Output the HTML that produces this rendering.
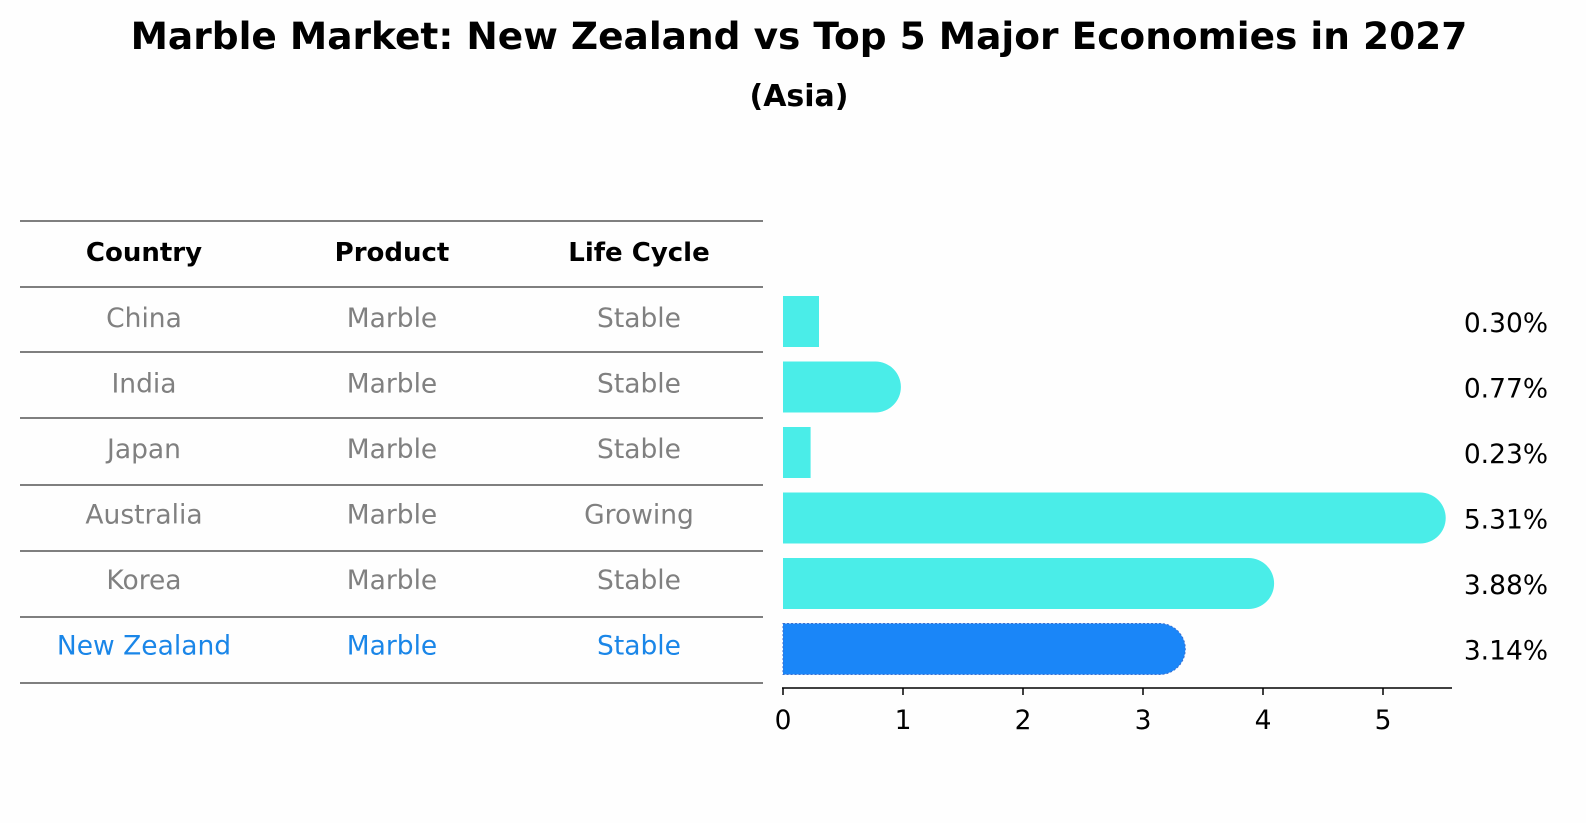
<!DOCTYPE html>
<html><head><meta charset="utf-8"><style>
body{margin:0;background:#fefefe;font-family:"Liberation Sans","DejaVu Sans",sans-serif;}
#wrap{position:relative;width:1586px;height:823px;overflow:hidden;}
.t{position:absolute;white-space:nowrap;}
</style></head><body>
<div id="wrap">
<div class="t" style="left:0;width:1598px;text-align:center;top:14px;font-size:37.5px;font-weight:bold;font-family:'DejaVu Sans',sans-serif;">Marble Market: New Zealand vs Top 5 Major Economies in 2027</div>
<div class="t" style="left:0;width:1598px;text-align:center;top:79px;font-size:30px;font-weight:bold;font-family:'DejaVu Sans',sans-serif;">(Asia)</div>
<svg id="svg" width="1586" height="823" style="position:absolute;left:0;top:0"></svg>
</div>
<script>
const countries=["China","India","Japan","Australia","Korea","New Zealand"];
const products=["Marble","Marble","Marble","Marble","Marble","Marble"];
const lifeCycles=["Stable","Stable","Stable","Growing","Stable","Stable"];
const values=[0.30,0.77,0.23,5.31,3.88,3.14];
const valueLabels=["0.30%","0.77%","0.23%","5.31%","3.88%","3.14%"];
const ticks=[0,1,2,3,4,5];
const NS="http://www.w3.org/2000/svg";
const svg=document.getElementById('svg');
const x=v=>783+v*120;
const rowY=i=>322+i*65.5;
function mk(tag,attrs,parent){const e=document.createElementNS(NS,tag);for(const k in attrs)e.setAttribute(k,attrs[k]);(parent||svg).appendChild(e);return e;}
const font="'DejaVu Sans',sans-serif";
const colX=[144,392,639];
const hdr=["Country","Product","Life Cycle"];
const lineYs=[221,287,352,418,485,551,617,683];
lineYs.forEach((ly,i)=>{const l=mk('line',{x1:20,x2:763,y1:ly,y2:ly,stroke:'#000','stroke-width':1});

});
hdr.forEach((h,i)=>{const t=mk('text',{x:colX[i],y:261,'text-anchor':'middle','font-size':26,'font-weight':'bold','font-family':font});t.textContent=h;

});
countries.forEach((c,i)=>{
  const col=i===countries.length-1?'#1a86e8':'#808080';
  [c,products[i],lifeCycles[i]].forEach((s,j)=>{
    const t=mk('text',{x:colX[j],y:rowY(i)+5,'text-anchor':'middle','font-size':26.5,fill:col,'font-family':font});t.textContent=s;
    
    
  });
  const h=51,y0=rowY(i)-26,r=h/2;
  const fill=i===countries.length-1?'#1a86f8':'#4aede8';
  const xe=x(values[i]);
  let d;
  if(values[i]<0.5){d=`M${x(0)},${y0}H${xe}V${y0+h}H${x(0)}Z`;}
  else{d=`M${x(0)},${y0}H${xe}A${r},${r} 0 0 1 ${xe},${y0+h}H${x(0)}Z`;}
  const attrs={d:d,fill:fill};
  if(i===countries.length-1){attrs.stroke='#3a6fd0';attrs['stroke-dasharray']='2,2';attrs['stroke-width']=1;}
  const b=mk('path',attrs);
  
  
  const t=mk('text',{x:1548,y:rowY(i)+10,'text-anchor':'end','font-size':26.5,'font-family':font});t.textContent=valueLabels[i];
  
  
});
const ax=mk('line',{x1:782,x2:1452,y1:688,y2:688,stroke:'#000','stroke-width':1.5});


ticks.forEach(v=>{
  const l=mk('line',{x1:x(v),x2:x(v),y1:688,y2:695,stroke:'#000','stroke-width':1.5});
  
  
  const t=mk('text',{x:x(v),y:729,'text-anchor':'middle','font-size':26.5,'font-family':font});t.textContent=v;
  
  
});
</script>
</body></html>
